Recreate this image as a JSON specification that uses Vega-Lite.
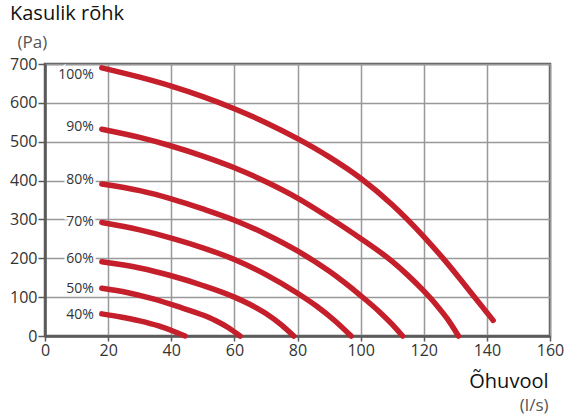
{
  "$schema": "https://vega.github.io/schema/vega-lite/v6.json",
  "width": 505,
  "height": 272,
  "autosize": {"type": "none"},
  "padding": {"left": 45, "top": 64, "right": 15, "bottom": 78},
  "config": {
    "font": "Open Sans",
    "view": {"stroke": "#5a5a5a", "strokeWidth": 2.5},
    "axis": {
      "labelFont": "Open Sans",
      "labelFontSize": 16,
      "labelColor": "#333333",
      "labelOverlap": false,
      "gridColor": "#999999",
      "gridWidth": 1.5,
      "domainColor": "#5a5a5a",
      "domainWidth": 2.5,
      "tickColor": "#5a5a5a",
      "tickWidth": 1.5,
      "titleFont": "Open Sans",
      "titleFontWeight": "normal"
    }
  },
  "title": {
    "text": "Kasulik rõhk",
    "anchor": "start",
    "frame": "group",
    "dx": -35,
    "offset": 9,
    "fontSize": 20,
    "fontWeight": "normal",
    "color": "#111111",
    "font": "Open Sans"
  },
  "datasets": {
    "curves": [
      {"s": "100%", "q": 18, "p": 690}, {"s": "100%", "q": 30, "p": 666}, {"s": "100%", "q": 40, "p": 643},
      {"s": "100%", "q": 50, "p": 616}, {"s": "100%", "q": 60, "p": 585}, {"s": "100%", "q": 70, "p": 549},
      {"s": "100%", "q": 80, "p": 508}, {"s": "100%", "q": 90, "p": 461}, {"s": "100%", "q": 100, "p": 406},
      {"s": "100%", "q": 110, "p": 338}, {"s": "100%", "q": 120, "p": 256}, {"s": "100%", "q": 126, "p": 201},
      {"s": "100%", "q": 131, "p": 152}, {"s": "100%", "q": 136, "p": 101}, {"s": "100%", "q": 142, "p": 40},

      {"s": "90%", "q": 18, "p": 532}, {"s": "90%", "q": 30, "p": 511}, {"s": "90%", "q": 40, "p": 489},
      {"s": "90%", "q": 50, "p": 463}, {"s": "90%", "q": 60, "p": 433}, {"s": "90%", "q": 70, "p": 397},
      {"s": "90%", "q": 80, "p": 355}, {"s": "90%", "q": 90, "p": 305}, {"s": "90%", "q": 100, "p": 251},
      {"s": "90%", "q": 110, "p": 192}, {"s": "90%", "q": 115, "p": 156}, {"s": "90%", "q": 120, "p": 116},
      {"s": "90%", "q": 124, "p": 80}, {"s": "90%", "q": 127.5, "p": 44}, {"s": "90%", "q": 131, "p": 0},

      {"s": "80%", "q": 18, "p": 391}, {"s": "80%", "q": 30, "p": 374}, {"s": "80%", "q": 40, "p": 353},
      {"s": "80%", "q": 50, "p": 327}, {"s": "80%", "q": 60, "p": 298}, {"s": "80%", "q": 70, "p": 262},
      {"s": "80%", "q": 80, "p": 219}, {"s": "80%", "q": 90, "p": 167}, {"s": "80%", "q": 100, "p": 104},
      {"s": "80%", "q": 106, "p": 62}, {"s": "80%", "q": 110, "p": 30}, {"s": "80%", "q": 113.3, "p": 0},

      {"s": "70%", "q": 18, "p": 292}, {"s": "70%", "q": 30, "p": 273}, {"s": "70%", "q": 40, "p": 252},
      {"s": "70%", "q": 50, "p": 227}, {"s": "70%", "q": 60, "p": 197}, {"s": "70%", "q": 70, "p": 158},
      {"s": "70%", "q": 80, "p": 110}, {"s": "70%", "q": 86, "p": 77}, {"s": "70%", "q": 92, "p": 38},
      {"s": "70%", "q": 97, "p": 0},

      {"s": "60%", "q": 18, "p": 191}, {"s": "60%", "q": 30, "p": 175}, {"s": "60%", "q": 40, "p": 155},
      {"s": "60%", "q": 50, "p": 130}, {"s": "60%", "q": 60, "p": 100}, {"s": "60%", "q": 65, "p": 81},
      {"s": "60%", "q": 70, "p": 58}, {"s": "60%", "q": 75, "p": 28}, {"s": "60%", "q": 78.8, "p": 0},

      {"s": "50%", "q": 18, "p": 123}, {"s": "50%", "q": 26, "p": 112}, {"s": "50%", "q": 34, "p": 96},
      {"s": "50%", "q": 42, "p": 76}, {"s": "50%", "q": 50, "p": 54}, {"s": "50%", "q": 54, "p": 40},
      {"s": "50%", "q": 58, "p": 22}, {"s": "50%", "q": 61.8, "p": 0},

      {"s": "40%", "q": 18, "p": 57}, {"s": "40%", "q": 24, "p": 49}, {"s": "40%", "q": 30, "p": 39},
      {"s": "40%", "q": 36, "p": 26}, {"s": "40%", "q": 40.5, "p": 13}, {"s": "40%", "q": 44.4, "p": 0}
    ],
    "labels": [
      {"t": "100%", "q": 18, "p": 672},
      {"t": "90%", "q": 18, "p": 537},
      {"t": "80%", "q": 18, "p": 401},
      {"t": "70%", "q": 18, "p": 293},
      {"t": "60%", "q": 18, "p": 199},
      {"t": "50%", "q": 18, "p": 121},
      {"t": "40%", "q": 18, "p": 54}
    ]
  },
  "resolve": {"scale": {"x": "independent"}},
  "layer": [
    {
      "data": {"name": "curves"},
      "mark": {"type": "line", "color": "#c41f2b", "strokeWidth": 5.5, "strokeCap": "round", "interpolate": "monotone"},
      "encoding": {
        "x": {
          "field": "q", "type": "quantitative",
          "scale": {"domain": [0, 160], "nice": false, "zero": true},
          "axis": {
            "values": [0, 20, 40, 60, 80, 100, 120, 140, 160],
            "tickSize": 5, "labelPadding": 1, "labelFlush": false,
            "title": "Õhuvool",
            "titleX": 503, "titleY": 45, "titleAlign": "right", "titleBaseline": "middle",
            "titleFontSize": 20, "titleColor": "#111111"
          }
        },
        "y": {
          "field": "p", "type": "quantitative",
          "scale": {"domain": [0, 700], "nice": false},
          "axis": {
            "values": [0, 100, 200, 300, 400, 500, 600, 700],
            "tickSize": 7, "labelPadding": 1, "labelFlush": false,
            "title": "(Pa)",
            "titleAngle": 0, "titleX": -28, "titleY": -22, "titleAlign": "left", "titleBaseline": "middle",
            "titleFontSize": 17, "titleColor": "#555555"
          }
        },
        "detail": {"field": "s", "type": "nominal"}
      }
    },
    {
      "data": {"name": "labels"},
      "mark": {"type": "text", "align": "right", "baseline": "middle", "dx": -8, "fontSize": 14, "font": "Open Sans", "color": "#ffffff", "stroke": "#ffffff", "strokeWidth": 5},
      "encoding": {
        "x": {"field": "q", "type": "quantitative", "scale": {"domain": [0, 160], "nice": false, "zero": true}, "axis": null},
        "y": {
          "field": "p", "type": "quantitative",
          "scale": {"domain": [0, 700], "nice": false},
          "axis": {
            "values": [0, 100, 200, 300, 400, 500, 600, 700],
            "tickSize": 7, "labelPadding": 1, "labelFlush": false,
            "title": "(Pa)",
            "titleAngle": 0, "titleX": -28, "titleY": -22, "titleAlign": "left", "titleBaseline": "middle",
            "titleFontSize": 17, "titleColor": "#555555"
          }
        },
        "text": {"field": "t"}
      }
    },
    {
      "data": {"name": "labels"},
      "mark": {"type": "text", "align": "right", "baseline": "middle", "dx": -8, "fontSize": 14, "font": "Open Sans", "color": "#333333"},
      "encoding": {
        "x": {
          "field": "q", "type": "quantitative",
          "scale": {"domain": [0, 160], "nice": false, "zero": true},
          "axis": {
            "orient": "bottom", "labels": false, "ticks": false, "domain": false, "grid": false,
            "title": "(l/s)",
            "titleX": 503, "titleY": 69, "titleAlign": "right", "titleBaseline": "middle",
            "titleFontSize": 17, "titleColor": "#555555"
          }
        },
        "y": {
          "field": "p", "type": "quantitative",
          "scale": {"domain": [0, 700], "nice": false},
          "axis": {
            "values": [0, 100, 200, 300, 400, 500, 600, 700],
            "tickSize": 7, "labelPadding": 1, "labelFlush": false,
            "title": "(Pa)",
            "titleAngle": 0, "titleX": -28, "titleY": -22, "titleAlign": "left", "titleBaseline": "middle",
            "titleFontSize": 17, "titleColor": "#555555"
          }
        },
        "text": {"field": "t"}
      }
    }
  ]
}
